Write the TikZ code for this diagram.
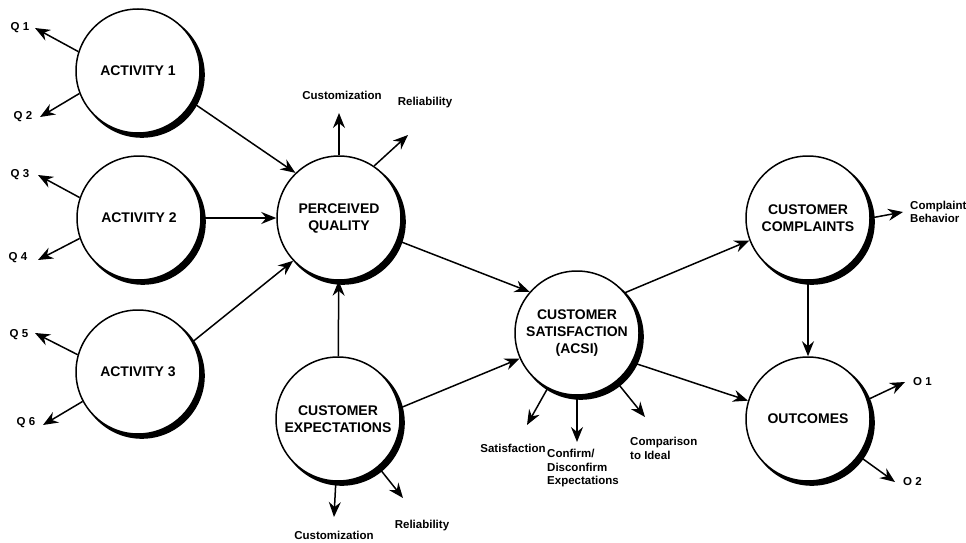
\documentclass[tikz,border=0pt]{standalone}
\usepackage{fontspec}
\setmainfont{Liberation Sans}
\usetikzlibrary{arrows.meta}
\begin{document}
\begin{tikzpicture}[x=1pt,y=-1pt,
  circ/.style={circle, draw, line width=1.5pt, fill=white, minimum size=124pt, inner sep=0pt,
    align=center, font=\fontsize{14}{17}\selectfont\bfseries},
  sdw/.style={fill=black, draw=none},
  lbl/.style={inner sep=0pt, font=\fontsize{11.5}{13.5}\selectfont\bfseries},
  ml/.style={lbl, align=left, anchor=north west},
  arr/.style={-{Stealth[length=15pt,width=12pt,inset=5pt]}, line width=1.5pt}]
\useasboundingbox (0,0) rectangle (966,543);
\fill[white] (0,0) rectangle (966,543);

% circles with their shadow crescents
\foreach \n/\x/\y/\t in {a1/138/71/{ACTIVITY 1}, a2/139/218/{ACTIVITY 2}, a3/138/372/{ACTIVITY 3},
    pq/339/218/{PERCEIVED\\QUALITY}, ce/338/419/{CUSTOMER\\EXPECTATIONS},
    cs/577/333/{CUSTOMER\\SATISFACTION\\(ACSI)}, cc/808/218/{CUSTOMER\\COMPLAINTS},
    out/808/419/{OUTCOMES}}{
  \fill[sdw] (\x+3.8,\y+3.8) circle[radius=63];
  \node[circ] (\n) at (\x,\y) {\t};
}

% labels
\node[lbl] (q1) at (20,28) {Q 1};
\node[lbl] (q2) at (23,117) {Q 2};
\node[lbl] (q3) at (20,175) {Q 3};
\node[lbl] (q4) at (18,258) {Q 4};
\node[lbl] (q5) at (19,335) {Q 5};
\node[lbl] (q6) at (26,423) {Q 6};
\node[lbl] (pqc) at (342,95) {Customization};
\node[lbl] (pqr) at (425,103) {Reliability};
\node[lbl] (cec) at (334,535) {Customization};
\node[lbl] (cer) at (422,526) {Reliability};
\node[lbl] (sat) at (513,448) {Satisfaction};
\node[ml] (conf) at (547,449) {Confirm/\\Disconfirm\\Expectations};
\node[ml] (comp) at (630,437) {Comparison\\to Ideal};
\node[lbl, align=left, anchor=west] (beh) at (910,212) {Complaint\\Behavior};
\node[lbl, anchor=west] (o1) at (913,382) {O 1};
\node[lbl, anchor=west] (o2) at (903,482) {O 2};

% tips of indicator arrows
\coordinate (tq1) at (35,28);
\coordinate (tq2) at (40,117);
\coordinate (tq3) at (38,175);
\coordinate (tq4) at (38,260);
\coordinate (tq5) at (35,333);
\coordinate (tq6) at (43,425);
\coordinate (tpqc) at (339,113);
\coordinate (tpqr) at (408,135);
\coordinate (tcec) at (334,517);
\coordinate (tcer) at (403,498);
\coordinate (tsat) at (527,425);
\coordinate (tconf) at (577,442);
\coordinate (tcomp) at (645,417);
\coordinate (tbeh) at (903,212);
\coordinate (to1) at (905,382);
\coordinate (to2) at (895,482);

% indicator arrows
\draw[arr] (a1.162) -- (tq1);
\draw[arr] (a1.201) -- (tq2);
\draw[arr] (a2.161) -- (tq3);
\draw[arr] (a2.199) -- (tq4);
\draw[arr] (a3.164) -- (tq5);
\draw[arr] (a3.208) -- (tq6);
\draw[arr] (pq.90) -- (tpqc);
\draw[arr] (pq.56) -- (tpqr);
\draw[arr] (ce.268) -- (tcec);
\draw[arr] (ce.310) -- (tcer);
\draw[arr] (cs.242) -- (tsat);
\draw[arr] (cs.270) -- (tconf);
\draw[arr] (cs.309) -- (tcomp);
\draw[arr] (cc.0) -- (tbeh);
\draw[arr] (out.18) -- (to1);
\draw[arr] (out.324) -- (to2);

% structural paths
\draw[arr] (a1.-30) -- (pq.134);
\draw[arr] (a2) -- (pq);
\draw[arr] (a3.29) -- (pq.223);
\draw[arr] (ce) -- (pq);
\draw[arr] (pq.-21) -- (cs.139);
\draw[arr] (ce.10) -- (cs.204);
\draw[arr] (cs.40) -- (cc.201);
\draw[arr] (cs.332) -- (out.163);
\draw[arr] (cc) -- (out);
\end{tikzpicture}
\end{document}
